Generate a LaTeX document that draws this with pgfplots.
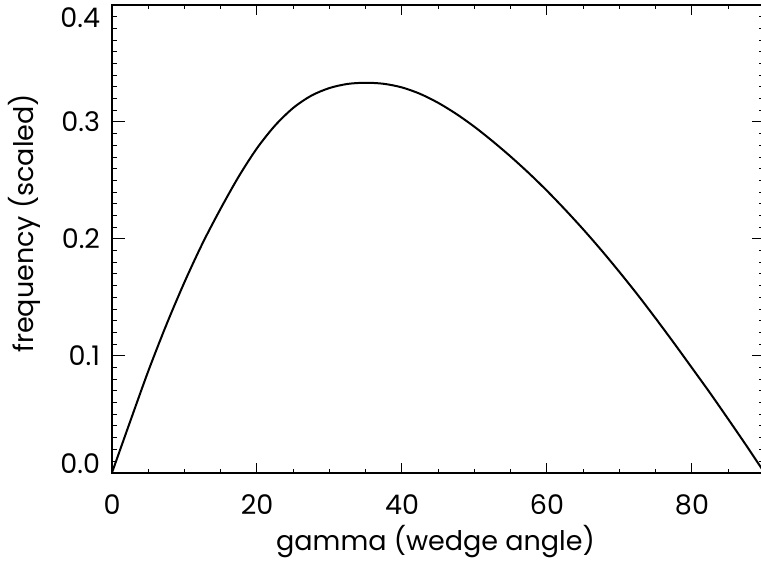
\documentclass[border=0pt]{standalone}
\usepackage{pgfplots}
\usepackage{pgfplotstable}
\pgfplotsset{compat=1.18}
\usepackage{fontspec}
\setmainfont{Poppins}

% frequency distribution of the wedge angle (scaled)
\pgfplotstableread{
gamma freq
0     0.0000
2.5   0.0437
5     0.0868
7.5   0.1265
10    0.1630
12.5  0.1963
15    0.2260
17.5  0.2535
20    0.2775
22.5  0.2970
25    0.3120
27.5  0.3225
30    0.3290
32.5  0.3325
35    0.3335
37.5  0.3326
40    0.3295
42.5  0.3240
45    0.3163
47.5  0.3068
50    0.2958
52.5  0.2835
55    0.2703
57.5  0.2562
60    0.2411
62.5  0.2250
65    0.2081
67.5  0.1903
70    0.1716
72.5  0.1522
75    0.1319
77.5  0.1110
80    0.0896
82.5  0.0681
85    0.0458
87.5  0.0232
90    0.0000
}\freqtable

\newcommand{\lblfont}{\fontsize{13.5}{16}\selectfont}

\pgfplotsset{
  frame/.style={
    width=326.25pt, height=233.85pt, scale only axis,
    xmin=0, xmax=90, ymin=0, ymax=0.4,
    axis line style={line width=0.8pt},
    tick align=inside,
    tick style={black, line width=0.5pt},
    tick label style={font=\lblfont},
    label style={font=\lblfont},
    clip mode=individual,
  }
}

\begin{document}
\begin{tikzpicture}
\path[use as bounding box] (-56pt,-44.65pt) rectangle (324.5pt,236.35pt);
\clip (-56pt,-44.65pt) rectangle (324.5pt,236.35pt);
\begin{scope}[overlay]
% y ticks, curve and y label
\begin{axis}[frame,
  xtick=\empty,
  ytick={0,0.1,0.2,0.3,0.4},
  yticklabels={,0.1,0.2,0.3,},
  minor ytick={0,0.01,...,0.4},
  ytick pos=both, yticklabel pos=left,
  major tick length=6.3pt, minor tick length=2.5pt,
  yticklabel style={anchor=east, inner sep=0pt, xshift=-5.8pt},
  ylabel={frequency (scaled)},
  ylabel style={at={(axis description cs:-0.1203,0.533)}, anchor=base},
]
\addplot[black, line width=1pt, smooth] table[x=gamma, y=freq] {\freqtable};
\node[anchor=south east, inner sep=0pt, font=\lblfont, xshift=-5.8pt, yshift=-0.65pt] at (rel axis cs:0,0) {0.0};
\node[anchor=north east, inner sep=0pt, font=\lblfont, xshift=-5.8pt, yshift=-1.15pt] at (rel axis cs:0,1) {0.4};
\end{axis}
% x ticks and x label
\begin{axis}[frame,
  ytick=\empty,
  xtick={0,20,40,60,80},
  xticklabels={0,20,40,60,80},
  minor xtick={0,5,...,90},
  xtick pos=both, xticklabel pos=bottom,
  major tick length=4.75pt, minor tick length=1.85pt,
  xticklabel style={anchor=base, yshift=-20.8pt},
  xlabel={gamma (wedge angle)},
  xlabel style={at={(axis description cs:0.4958,-0.1674)}, anchor=base},
]
\end{axis}
\end{scope}
\end{tikzpicture}
\end{document}
